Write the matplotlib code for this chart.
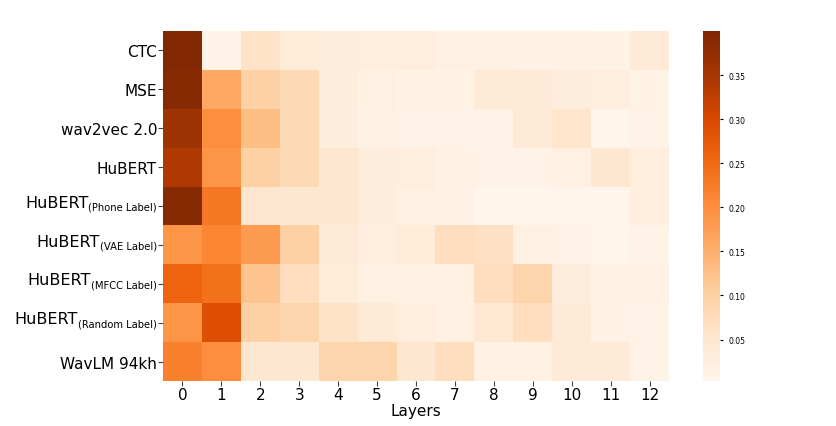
import numpy as np
import matplotlib
matplotlib.use("Agg")
import matplotlib.pyplot as plt

# (main name, subscript or None)
models = [("CTC", None), ("MSE", None), ("wav2vec 2.0", None), ("HuBERT", None),
          ("HuBERT", "(Phone Label)"), ("HuBERT", "(VAE Label)"),
          ("HuBERT", "(MFCC Label)"), ("HuBERT", "(Random Label)"),
          ("WavLM 94kh", None)]
layers = [str(i) for i in range(13)]

ctc     = [0.395, 0.010, 0.060, 0.035, 0.030, 0.025, 0.025, 0.020, 0.020, 0.015, 0.015, 0.012, 0.040]
mse     = [0.390, 0.160, 0.100, 0.080, 0.030, 0.020, 0.012, 0.012, 0.040, 0.040, 0.030, 0.025, 0.012]
w2v     = [0.360, 0.200, 0.130, 0.080, 0.030, 0.015, 0.010, 0.010, 0.010, 0.040, 0.055, 0.006, 0.010]
hubert  = [0.340, 0.190, 0.100, 0.080, 0.050, 0.030, 0.025, 0.015, 0.010, 0.010, 0.020, 0.050, 0.025]
phone   = [0.390, 0.230, 0.050, 0.050, 0.050, 0.030, 0.020, 0.015, 0.006, 0.006, 0.006, 0.006, 0.025]
vae     = [0.190, 0.210, 0.180, 0.100, 0.040, 0.025, 0.035, 0.070, 0.065, 0.020, 0.010, 0.006, 0.010]
mfcc    = [0.260, 0.240, 0.120, 0.070, 0.035, 0.020, 0.020, 0.020, 0.070, 0.090, 0.030, 0.015, 0.015]
randoml = [0.190, 0.290, 0.100, 0.090, 0.060, 0.040, 0.025, 0.020, 0.045, 0.070, 0.040, 0.015, 0.010]
wavlm   = [0.220, 0.200, 0.050, 0.050, 0.090, 0.090, 0.050, 0.070, 0.015, 0.015, 0.040, 0.040, 0.010]

data = np.array([ctc, mse, w2v, hubert, phone, vae, mfcc, randoml, wavlm])

fig = plt.figure(figsize=(8.37, 4.27), dpi=100)
ax = fig.add_axes([163/837, 45/427, 506/837, 350/427])
cax = fig.add_axes([703/837, 45/427, 17/837, 350/427])

vmin, vmax = 0.003, 0.400
mesh = ax.pcolormesh(data, cmap="Oranges", vmin=vmin, vmax=vmax)
ax.set_xlim(0, data.shape[1])
ax.set_ylim(data.shape[0], 0)
ax.set_xticks(np.arange(data.shape[1]) + 0.5)
ax.set_xticklabels(layers, fontsize=11)
ax.set_yticks(np.arange(data.shape[0]) + 0.5)
ax.set_yticklabels([m if s is None else "" for m, s in models], fontsize=11)
ax.tick_params(axis="both", length=3.5, pad=0.8, color="#444444")
ax.set_xlabel("Layers", fontsize=11, labelpad=1)
for s in ax.spines.values():
    s.set_visible(False)

ytr = ax.get_yaxis_transform()
for i, (m, s) in enumerate(models):
    if s is None:
        continue
    sub = ax.annotate(s, xy=(0, i + 0.5), xycoords=ytr,
                      xytext=(-4.3, -2.8), textcoords="offset points",
                      ha="right", va="baseline", fontsize=7.2)
    ax.annotate(m, xy=(0, i + 0.5), xycoords=(sub, ytr),
                xytext=(0, -0.5), textcoords="offset points",
                ha="right", va="baseline", fontsize=11.5)

cb = fig.colorbar(mesh, cax=cax)
cb.set_ticks([0.05, 0.10, 0.15, 0.20, 0.25, 0.30, 0.35])
cb.ax.tick_params(labelsize=5.5, length=2.5)
cb.outline.set_visible(False)

fig.savefig("out.png", dpi=100)
